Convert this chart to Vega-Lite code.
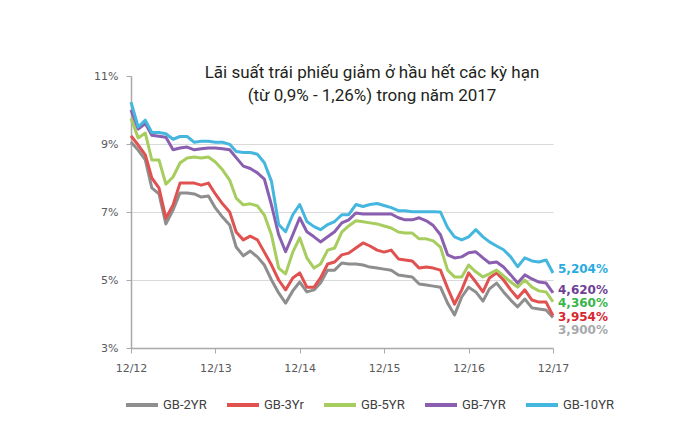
{
  "$schema": "https://vega.github.io/schema/vega-lite/v6.json",
  "width": 422,
  "height": 272,
  "autosize": {"type": "none"},
  "padding": {"left": 131, "top": 76, "right": 130, "bottom": 91},
  "background": "white",
  "config": {"view": {"stroke": null}, "font": "DejaVu Sans"},
  "title": {
    "text": ["Lãi suất trái phiếu giảm ở hầu hết các kỳ hạn", "(từ 0,9% - 1,26%) trong năm 2017"],
    "font": "Roboto",
    "fontSize": 17,
    "fontWeight": "normal",
    "color": "#231f20",
    "lineHeight": 23,
    "anchor": "middle",
    "frame": "group",
    "baseline": "alphabetic",
    "dx": 30,
    "offset": -48
  },
  "datasets": {
    "rates": [
      {"date": "2012-12-01", "GB-2YR": 9.06, "GB-3Yr": 9.24, "GB-5YR": 9.76, "GB-7YR": 10.0, "GB-10YR": 10.23},
      {"date": "2013-01-01", "GB-2YR": 8.82, "GB-3Yr": 8.97, "GB-5YR": 9.18, "GB-7YR": 9.44, "GB-10YR": 9.5},
      {"date": "2013-02-01", "GB-2YR": 8.53, "GB-3Yr": 8.68, "GB-5YR": 9.32, "GB-7YR": 9.6, "GB-10YR": 9.7},
      {"date": "2013-03-01", "GB-2YR": 7.71, "GB-3Yr": 8.0, "GB-5YR": 8.53, "GB-7YR": 9.26, "GB-10YR": 9.34},
      {"date": "2013-04-01", "GB-2YR": 7.53, "GB-3Yr": 7.71, "GB-5YR": 8.53, "GB-7YR": 9.23, "GB-10YR": 9.34},
      {"date": "2013-05-01", "GB-2YR": 6.65, "GB-3Yr": 6.82, "GB-5YR": 7.82, "GB-7YR": 9.2, "GB-10YR": 9.3},
      {"date": "2013-06-01", "GB-2YR": 7.06, "GB-3Yr": 7.21, "GB-5YR": 8.03, "GB-7YR": 8.83, "GB-10YR": 9.14},
      {"date": "2013-07-01", "GB-2YR": 7.56, "GB-3Yr": 7.85, "GB-5YR": 8.44, "GB-7YR": 8.88, "GB-10YR": 9.22},
      {"date": "2013-08-01", "GB-2YR": 7.56, "GB-3Yr": 7.85, "GB-5YR": 8.59, "GB-7YR": 8.91, "GB-10YR": 9.22},
      {"date": "2013-09-01", "GB-2YR": 7.53, "GB-3Yr": 7.85, "GB-5YR": 8.62, "GB-7YR": 8.83, "GB-10YR": 9.05},
      {"date": "2013-10-01", "GB-2YR": 7.44, "GB-3Yr": 7.79, "GB-5YR": 8.59, "GB-7YR": 8.86, "GB-10YR": 9.08},
      {"date": "2013-11-01", "GB-2YR": 7.47, "GB-3Yr": 7.85, "GB-5YR": 8.62, "GB-7YR": 8.88, "GB-10YR": 9.08},
      {"date": "2013-12-01", "GB-2YR": 7.12, "GB-3Yr": 7.53, "GB-5YR": 8.47, "GB-7YR": 8.88, "GB-10YR": 9.05},
      {"date": "2014-01-01", "GB-2YR": 6.85, "GB-3Yr": 7.24, "GB-5YR": 8.24, "GB-7YR": 8.86, "GB-10YR": 9.05},
      {"date": "2014-02-01", "GB-2YR": 6.62, "GB-3Yr": 7.0, "GB-5YR": 7.94, "GB-7YR": 8.83, "GB-10YR": 8.99},
      {"date": "2014-03-01", "GB-2YR": 5.97, "GB-3Yr": 6.41, "GB-5YR": 7.41, "GB-7YR": 8.6, "GB-10YR": 8.78},
      {"date": "2014-04-01", "GB-2YR": 5.71, "GB-3Yr": 6.18, "GB-5YR": 7.21, "GB-7YR": 8.35, "GB-10YR": 8.75},
      {"date": "2014-05-01", "GB-2YR": 5.85, "GB-3Yr": 6.29, "GB-5YR": 7.24, "GB-7YR": 8.28, "GB-10YR": 8.75},
      {"date": "2014-06-01", "GB-2YR": 5.68, "GB-3Yr": 6.18, "GB-5YR": 7.18, "GB-7YR": 8.15, "GB-10YR": 8.7},
      {"date": "2014-07-01", "GB-2YR": 5.44, "GB-3Yr": 5.82, "GB-5YR": 6.91, "GB-7YR": 7.97, "GB-10YR": 8.45},
      {"date": "2014-08-01", "GB-2YR": 5.0, "GB-3Yr": 5.44, "GB-5YR": 6.32, "GB-7YR": 7.2, "GB-10YR": 7.9},
      {"date": "2014-09-01", "GB-2YR": 4.62, "GB-3Yr": 5.0, "GB-5YR": 5.35, "GB-7YR": 6.33, "GB-10YR": 6.63},
      {"date": "2014-10-01", "GB-2YR": 4.32, "GB-3Yr": 4.71, "GB-5YR": 5.18, "GB-7YR": 5.83, "GB-10YR": 6.42},
      {"date": "2014-11-01", "GB-2YR": 4.68, "GB-3Yr": 5.06, "GB-5YR": 5.82, "GB-7YR": 6.33, "GB-10YR": 6.92},
      {"date": "2014-12-01", "GB-2YR": 4.94, "GB-3Yr": 5.21, "GB-5YR": 6.24, "GB-7YR": 6.83, "GB-10YR": 7.22},
      {"date": "2015-01-01", "GB-2YR": 4.65, "GB-3Yr": 4.79, "GB-5YR": 5.65, "GB-7YR": 6.42, "GB-10YR": 6.72},
      {"date": "2015-02-01", "GB-2YR": 4.71, "GB-3Yr": 4.79, "GB-5YR": 5.35, "GB-7YR": 6.27, "GB-10YR": 6.57},
      {"date": "2015-03-01", "GB-2YR": 4.91, "GB-3Yr": 5.06, "GB-5YR": 5.47, "GB-7YR": 6.12, "GB-10YR": 6.48},
      {"date": "2015-04-01", "GB-2YR": 5.29, "GB-3Yr": 5.47, "GB-5YR": 5.88, "GB-7YR": 6.27, "GB-10YR": 6.63},
      {"date": "2015-05-01", "GB-2YR": 5.29, "GB-3Yr": 5.53, "GB-5YR": 5.94, "GB-7YR": 6.42, "GB-10YR": 6.72},
      {"date": "2015-06-01", "GB-2YR": 5.5, "GB-3Yr": 5.74, "GB-5YR": 6.41, "GB-7YR": 6.68, "GB-10YR": 6.92},
      {"date": "2015-07-01", "GB-2YR": 5.47, "GB-3Yr": 5.79, "GB-5YR": 6.59, "GB-7YR": 6.77, "GB-10YR": 6.92},
      {"date": "2015-08-01", "GB-2YR": 5.47, "GB-3Yr": 5.94, "GB-5YR": 6.74, "GB-7YR": 6.97, "GB-10YR": 7.22},
      {"date": "2015-09-01", "GB-2YR": 5.44, "GB-3Yr": 6.09, "GB-5YR": 6.71, "GB-7YR": 6.94, "GB-10YR": 7.16},
      {"date": "2015-10-01", "GB-2YR": 5.38, "GB-3Yr": 6.0, "GB-5YR": 6.68, "GB-7YR": 6.94, "GB-10YR": 7.22},
      {"date": "2015-11-01", "GB-2YR": 5.35, "GB-3Yr": 5.88, "GB-5YR": 6.65, "GB-7YR": 6.94, "GB-10YR": 7.25},
      {"date": "2015-12-01", "GB-2YR": 5.32, "GB-3Yr": 5.82, "GB-5YR": 6.59, "GB-7YR": 6.94, "GB-10YR": 7.19},
      {"date": "2016-01-01", "GB-2YR": 5.29, "GB-3Yr": 5.88, "GB-5YR": 6.53, "GB-7YR": 6.94, "GB-10YR": 7.13},
      {"date": "2016-02-01", "GB-2YR": 5.15, "GB-3Yr": 5.62, "GB-5YR": 6.41, "GB-7YR": 6.83, "GB-10YR": 7.04},
      {"date": "2016-03-01", "GB-2YR": 5.12, "GB-3Yr": 5.59, "GB-5YR": 6.38, "GB-7YR": 6.77, "GB-10YR": 7.04},
      {"date": "2016-04-01", "GB-2YR": 5.09, "GB-3Yr": 5.56, "GB-5YR": 6.38, "GB-7YR": 6.77, "GB-10YR": 7.01},
      {"date": "2016-05-01", "GB-2YR": 4.88, "GB-3Yr": 5.35, "GB-5YR": 6.21, "GB-7YR": 6.83, "GB-10YR": 7.01},
      {"date": "2016-06-01", "GB-2YR": 4.85, "GB-3Yr": 5.38, "GB-5YR": 6.21, "GB-7YR": 6.74, "GB-10YR": 7.01},
      {"date": "2016-07-01", "GB-2YR": 4.82, "GB-3Yr": 5.35, "GB-5YR": 6.15, "GB-7YR": 6.6, "GB-10YR": 7.01},
      {"date": "2016-08-01", "GB-2YR": 4.79, "GB-3Yr": 5.29, "GB-5YR": 5.97, "GB-7YR": 6.33, "GB-10YR": 7.0},
      {"date": "2016-09-01", "GB-2YR": 4.32, "GB-3Yr": 4.76, "GB-5YR": 5.29, "GB-7YR": 5.74, "GB-10YR": 6.54},
      {"date": "2016-10-01", "GB-2YR": 3.97, "GB-3Yr": 4.29, "GB-5YR": 5.09, "GB-7YR": 5.65, "GB-10YR": 6.27},
      {"date": "2016-11-01", "GB-2YR": 4.5, "GB-3Yr": 4.71, "GB-5YR": 5.09, "GB-7YR": 5.68, "GB-10YR": 6.18},
      {"date": "2016-12-01", "GB-2YR": 4.79, "GB-3Yr": 5.21, "GB-5YR": 5.44, "GB-7YR": 5.8, "GB-10YR": 6.27},
      {"date": "2017-01-01", "GB-2YR": 4.65, "GB-3Yr": 4.94, "GB-5YR": 5.24, "GB-7YR": 5.83, "GB-10YR": 6.48},
      {"date": "2017-02-01", "GB-2YR": 4.38, "GB-3Yr": 4.65, "GB-5YR": 5.09, "GB-7YR": 5.65, "GB-10YR": 6.27},
      {"date": "2017-03-01", "GB-2YR": 4.74, "GB-3Yr": 5.06, "GB-5YR": 5.18, "GB-7YR": 5.5, "GB-10YR": 6.12},
      {"date": "2017-04-01", "GB-2YR": 4.91, "GB-3Yr": 5.21, "GB-5YR": 5.29, "GB-7YR": 5.53, "GB-10YR": 6.0},
      {"date": "2017-05-01", "GB-2YR": 4.65, "GB-3Yr": 5.0, "GB-5YR": 5.12, "GB-7YR": 5.38, "GB-10YR": 5.89},
      {"date": "2017-06-01", "GB-2YR": 4.41, "GB-3Yr": 4.71, "GB-5YR": 4.94, "GB-7YR": 5.15, "GB-10YR": 5.68},
      {"date": "2017-07-01", "GB-2YR": 4.21, "GB-3Yr": 4.47, "GB-5YR": 4.79, "GB-7YR": 4.91, "GB-10YR": 5.39},
      {"date": "2017-08-01", "GB-2YR": 4.44, "GB-3Yr": 4.71, "GB-5YR": 5.0, "GB-7YR": 5.15, "GB-10YR": 5.65},
      {"date": "2017-09-01", "GB-2YR": 4.18, "GB-3Yr": 4.41, "GB-5YR": 4.79, "GB-7YR": 5.03, "GB-10YR": 5.56},
      {"date": "2017-10-01", "GB-2YR": 4.15, "GB-3Yr": 4.35, "GB-5YR": 4.68, "GB-7YR": 4.94, "GB-10YR": 5.53},
      {"date": "2017-11-01", "GB-2YR": 4.12, "GB-3Yr": 4.35, "GB-5YR": 4.65, "GB-7YR": 4.91, "GB-10YR": 5.59},
      {"date": "2017-12-01", "GB-2YR": 3.9, "GB-3Yr": 3.954, "GB-5YR": 4.36, "GB-7YR": 4.62, "GB-10YR": 5.204}
    ],
    "ends": [
      {"series": "GB-10YR", "date": "2017-12-01", "value": 5.204, "label": "5,204%"},
      {"series": "GB-7YR", "date": "2017-12-01", "value": 4.62, "label": "4,620%"},
      {"series": "GB-5YR", "date": "2017-12-01", "value": 4.36, "label": "4,360%"},
      {"series": "GB-3Yr", "date": "2017-12-01", "value": 3.954, "label": "3,954%"},
      {"series": "GB-2YR", "date": "2017-12-01", "value": 3.9, "label": "3,900%"}
    ]
  },
  "encoding": {
    "x": {
      "field": "date",
      "type": "temporal",
      "title": null,
      "scale": {"type": "utc", "domain": [{"year": 2012, "month": 12, "date": 1, "utc": true}, {"year": 2017, "month": 12, "date": 1, "utc": true}], "nice": false},
      "axis": {
        "values": [
          {"year": 2012, "month": 12, "date": 1, "utc": true},
          {"year": 2013, "month": 12, "date": 1, "utc": true},
          {"year": 2014, "month": 12, "date": 1, "utc": true},
          {"year": 2015, "month": 12, "date": 1, "utc": true},
          {"year": 2016, "month": 12, "date": 1, "utc": true},
          {"year": 2017, "month": 12, "date": 1, "utc": true}
        ],
        "format": "%m/%y",
        "grid": false,
        "domainColor": "#a7a9ac",
        "domainWidth": 1.5,
        "tickColor": "#a7a9ac",
        "tickSize": 5,
        "labelPadding": 9,
        "labelFont": "DejaVu Sans",
        "labelFontSize": 11,
        "labelColor": "#58595b",
        "labelFlush": false
      }
    },
    "y": {
      "field": "value",
      "type": "quantitative",
      "title": null,
      "scale": {"domain": [3, 11], "nice": false, "zero": false},
      "axis": {
        "values": [3, 5, 7, 9, 11],
        "labelExpr": "datum.value + '%'",
        "grid": true,
        "gridColor": {"condition": {"test": "datum.value == 11 || datum.value == 3", "value": "transparent"}, "value": "#d9d9da"},
        "gridWidth": 1,
        "domainColor": "#a7a9ac",
        "domainWidth": 1.5,
        "tickColor": "#a7a9ac",
        "tickSize": 5,
        "labelPadding": 8,
        "labelFont": "DejaVu Sans",
        "labelFontSize": 11,
        "labelColor": "#58595b"
      }
    }
  },
  "layer": [
    {
      "data": {"name": "rates"},
      "transform": [{"fold": ["GB-2YR", "GB-3Yr", "GB-5YR", "GB-7YR", "GB-10YR"], "as": ["series", "value"]}],
      "mark": {"type": "line", "strokeWidth": 3, "strokeJoin": "round"},
      "encoding": {
        "color": {
          "field": "series",
          "type": "nominal",
          "scale": {
            "domain": ["GB-2YR", "GB-3Yr", "GB-5YR", "GB-7YR", "GB-10YR"],
            "range": ["#8e8e8e", "#e0514f", "#a6cd5e", "#8b5fb0", "#45b7de"]
          },
          "legend": {
            "title": null,
            "orient": "none",
            "legendX": -7,
            "legendY": 311,
            "direction": "horizontal",
            "symbolType": "stroke",
            "symbolSize": 1024,
            "symbolStrokeWidth": 4,
            "labelFont": "Roboto",
            "labelFontSize": 13,
            "labelColor": "#414042",
            "labelOffset": 3,
            "columnPadding": 12,
            "padding": 0
          }
        }
      }
    },
    {
      "data": {"name": "ends"},
      "transform": [{"filter": "datum.series == 'GB-10YR'"}],
      "mark": {"type": "text", "align": "left", "baseline": "middle", "dx": 5, "dy": -4, "font": "DejaVu Sans", "fontWeight": "bold", "fontSize": 12, "color": "#29abe2"},
      "encoding": {"text": {"field": "label"}}
    },
    {
      "data": {"name": "ends"},
      "transform": [{"filter": "datum.series == 'GB-7YR'"}],
      "mark": {"type": "text", "align": "left", "baseline": "middle", "dx": 5, "dy": -3, "font": "DejaVu Sans", "fontWeight": "bold", "fontSize": 12, "color": "#6f3f96"},
      "encoding": {"text": {"field": "label"}}
    },
    {
      "data": {"name": "ends"},
      "transform": [{"filter": "datum.series == 'GB-5YR'"}],
      "mark": {"type": "text", "align": "left", "baseline": "middle", "dx": 5, "dy": 1, "font": "DejaVu Sans", "fontWeight": "bold", "fontSize": 12, "color": "#39b54a"},
      "encoding": {"text": {"field": "label"}}
    },
    {
      "data": {"name": "ends"},
      "transform": [{"filter": "datum.series == 'GB-3Yr'"}],
      "mark": {"type": "text", "align": "left", "baseline": "middle", "dx": 5, "dy": 1, "font": "DejaVu Sans", "fontWeight": "bold", "fontSize": 12, "color": "#d7282f"},
      "encoding": {"text": {"field": "label"}}
    },
    {
      "data": {"name": "ends"},
      "transform": [{"filter": "datum.series == 'GB-2YR'"}],
      "mark": {"type": "text", "align": "left", "baseline": "middle", "dx": 5, "dy": 13, "font": "DejaVu Sans", "fontWeight": "bold", "fontSize": 12, "color": "#a7a9ac"},
      "encoding": {"text": {"field": "label"}}
    }
  ]
}
